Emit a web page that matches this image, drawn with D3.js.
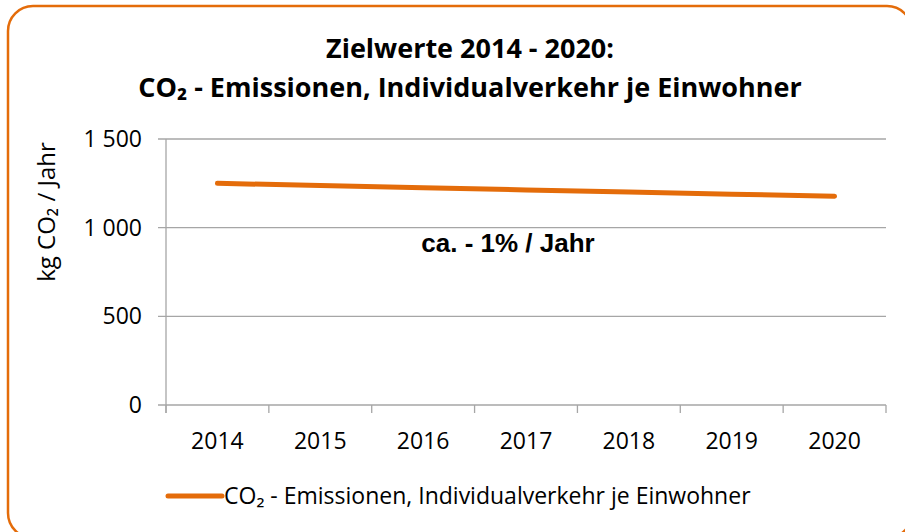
<!DOCTYPE html>
<html>
<head>
<meta charset="utf-8">
<script src="https://cdn.jsdelivr.net/npm/d3@7"></script>
<style>
  body { margin: 0; background: #fff; overflow: hidden; }
  text { font-family: "Open Sans", sans-serif; fill: #000; }
</style>
</head>
<body>
<div class="chart__container"></div>
<script>
const years = ["2014", "2015", "2016", "2017", "2018", "2019", "2020"];
const emissions = [1250, 1238, 1225, 1213, 1201, 1189, 1177];
const yTicks = [0, 500, 1000, 1500];
const seriesName = "CO₂ - Emissionen, Individualverkehr je Einwohner";

const width = 905, height = 532;
const margin = { top: 139, right: 19, bottom: 127, left: 166 };
const orange = "#E46C0A";
const gridColor = "#A6A6A6";

const svg = d3.select(".chart__container")
  .append("svg")
  .attr("width", width)
  .attr("height", height)
  .style("display", "block");

// frame (runs off the right and bottom edge like the original)
svg.append("rect")
  .attr("x", 8).attr("y", 6)
  .attr("width", 904).attr("height", 532)
  .attr("rx", 25).attr("ry", 25)
  .attr("fill", "#fff")
  .attr("stroke", orange)
  .attr("stroke-width", 2.5);

const xScale = d3.scaleBand()
  .domain(years)
  .range([margin.left, width - margin.right]);

const yScale = d3.scaleLinear()
  .domain([0, 1500])
  .range([height - margin.bottom, margin.top]);

// title
const title = svg.append("text")
  .attr("text-anchor", "middle")
  .attr("font-weight", "bold")
  .attr("font-size", 27);
title.append("tspan").attr("x", 470).attr("y", 58).text("Zielwerte 2014 - 2020:");
title.append("tspan").attr("x", 470).attr("y", 97).text("CO₂ - Emissionen, Individualverkehr je Einwohner");

// gridlines
svg.append("g")
  .selectAll("line")
  .data(yTicks)
  .join("line")
  .attr("x1", margin.left - 8)
  .attr("x2", width - margin.right)
  .attr("y1", d => yScale(d))
  .attr("y2", d => yScale(d))
  .attr("stroke", gridColor)
  .attr("stroke-width", 1.3);

// y axis line
svg.append("line")
  .attr("x1", margin.left).attr("x2", margin.left)
  .attr("y1", margin.top).attr("y2", yScale(0) + 8)
  .attr("stroke", gridColor)
  .attr("stroke-width", 1.3);

// y tick labels
svg.append("g")
  .selectAll("text")
  .data(yTicks)
  .join("text")
  .attr("x", margin.left - 24)
  .attr("y", d => yScale(d))
  .attr("dy", "0.35em")
  .attr("text-anchor", "end")
  .attr("font-size", 23)
  .text(d => d3.format(",")(d).replace(",", " "));

// x ticks at band edges
const edges = years.map(d => xScale(d)).concat([xScale.range()[1]]);
svg.append("g")
  .selectAll("line")
  .data(edges)
  .join("line")
  .attr("x1", d => d).attr("x2", d => d)
  .attr("y1", yScale(0)).attr("y2", yScale(0) + 8)
  .attr("stroke", gridColor)
  .attr("stroke-width", 1.3);

svg.append("g")
  .selectAll("text")
  .data(years)
  .join("text")
  .attr("x", d => xScale(d) + xScale.bandwidth() / 2)
  .attr("y", yScale(0) + 44)
  .attr("text-anchor", "middle")
  .attr("font-size", 23)
  .text(d => d);

// y axis title
svg.append("text")
  .attr("transform", `translate(55,${(margin.top + yScale(0)) / 2 - 60}) rotate(-90)`)
  .attr("text-anchor", "middle")
  .attr("font-size", 24)
  .text("kg CO₂ / Jahr");

// line
const line = d3.line()
  .x((d, i) => xScale(years[i]) + xScale.bandwidth() / 2)
  .y(d => yScale(d));

svg.append("path")
  .datum(emissions)
  .attr("fill", "none")
  .attr("stroke", orange)
  .attr("stroke-width", 5)
  .attr("stroke-linecap", "round")
  .attr("d", line);

// annotation
svg.append("text")
  .attr("x", 508)
  .attr("y", 252)
  .attr("text-anchor", "middle")
  .attr("font-weight", "bold")
  .attr("font-size", 26)
  .style("font-family", "'Liberation Sans', Arial, sans-serif")
  .text("ca. - 1% / Jahr");

// legend
const legend = svg.append("g").attr("transform", "translate(168,496)");
legend.append("line")
  .attr("x1", 0).attr("x2", 54)
  .attr("stroke", orange)
  .attr("stroke-width", 5)
  .attr("stroke-linecap", "round");
legend.append("text")
  .attr("x", 56)
  .attr("dy", "0.35em")
  .attr("font-size", 23)
  .text(seriesName);
</script>
</body>
</html>
